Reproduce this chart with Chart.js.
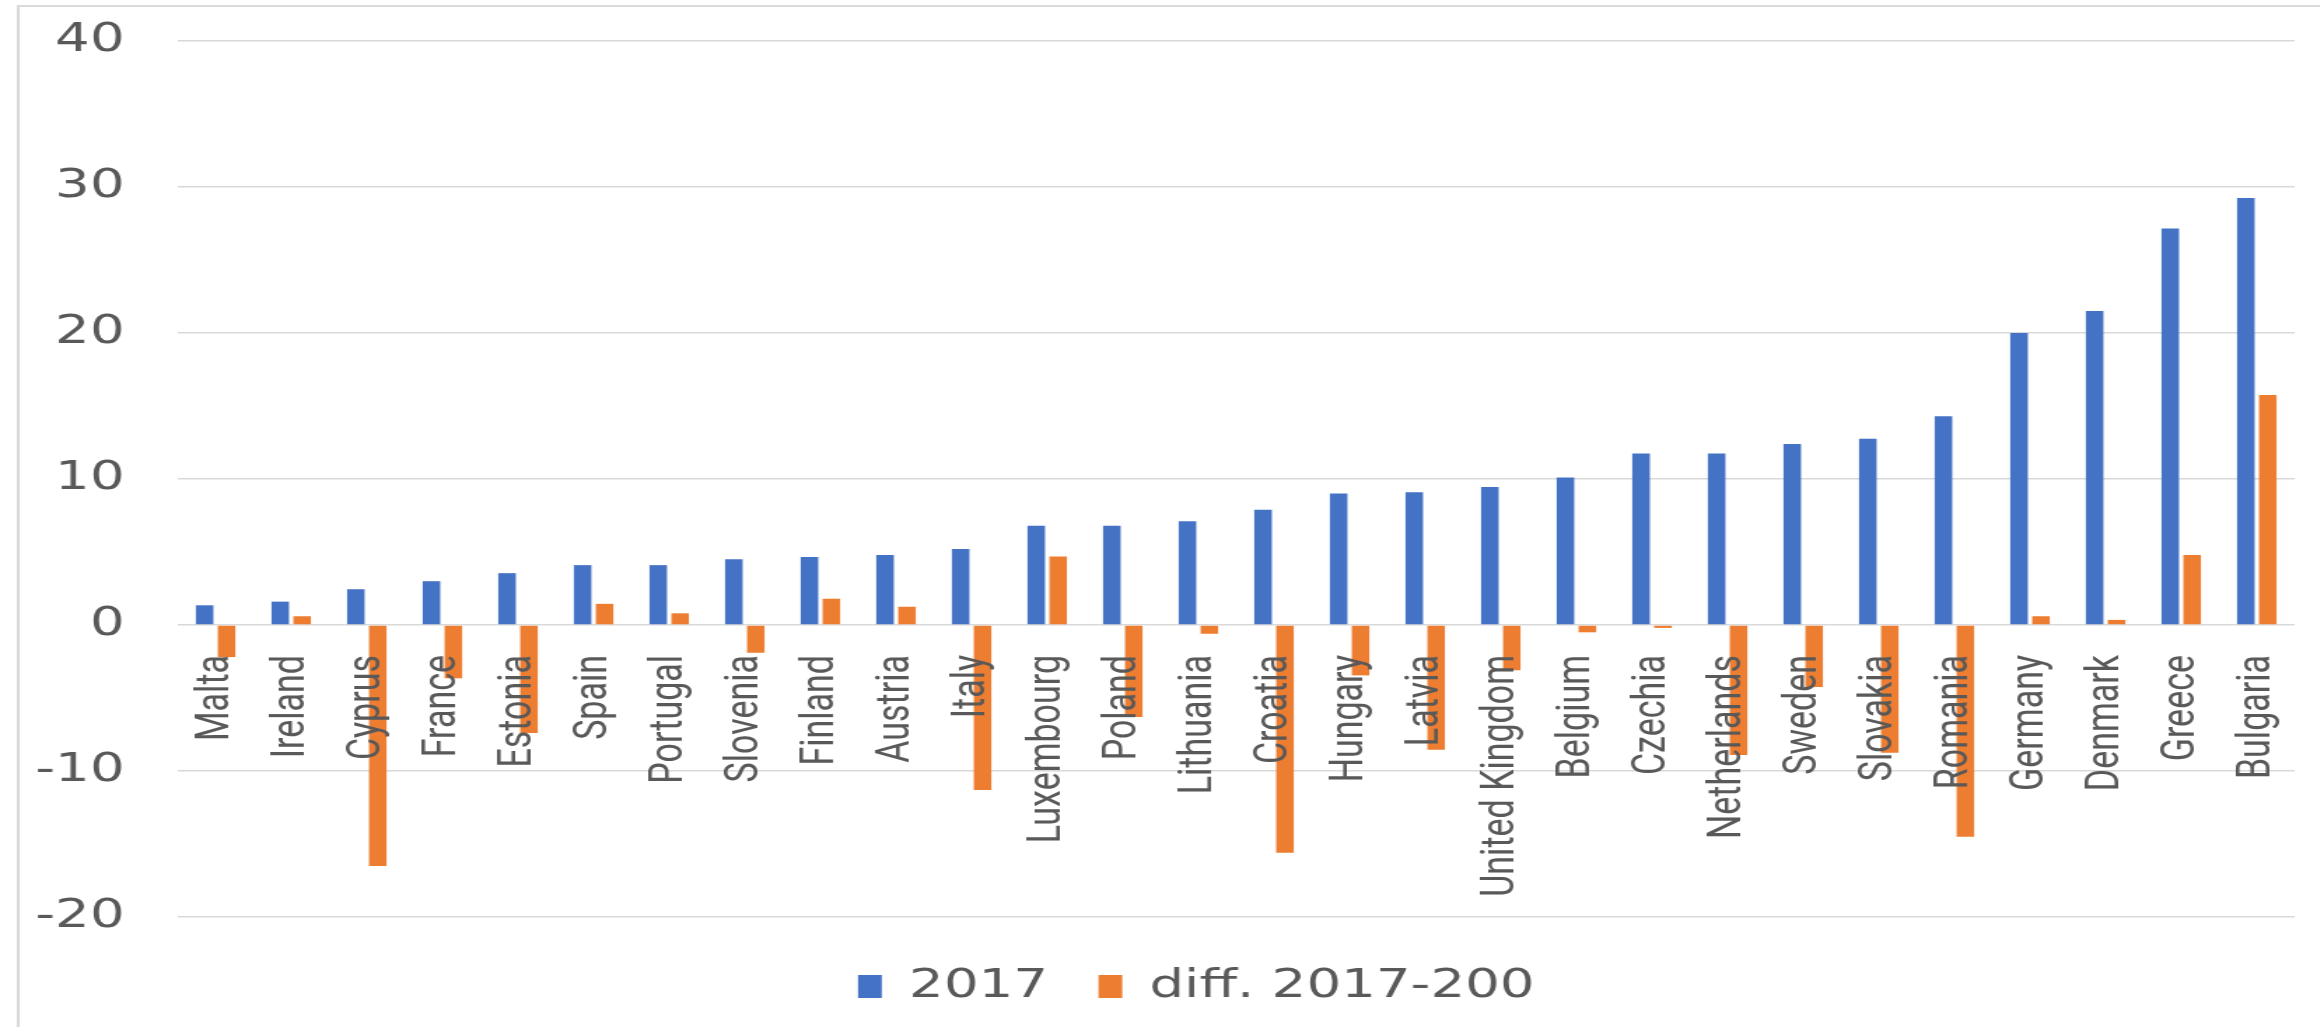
<!DOCTYPE html>
<html>
<head>
<meta charset="utf-8">
<title>2017 and diff. 2017-200</title>
<script src="https://cdn.jsdelivr.net/npm/chart.js@4.4.1/dist/chart.umd.min.js"></script>
<style>
    html, body { margin: 0; padding: 0; background: #ffffff; overflow: hidden; }
    /* the reference picture is stretched sideways, so the chart is drawn narrow and widened */
    #wrap { width: 1657px; height: 1027px; transform: scaleX(1.4); transform-origin: 0 0; }
</style>
</head>
<body>
<div id="wrap"><canvas id="chart"></canvas></div>
<script>
const countries = ["Malta", "Ireland", "Cyprus", "France", "Estonia", "Spain", "Portugal", "Slovenia",
    "Finland", "Austria", "Italy", "Luxembourg", "Poland", "Lithuania", "Croatia", "Hungary", "Latvia",
    "United Kingdom", "Belgium", "Czechia", "Netherlands", "Sweden", "Slovakia", "Romania", "Germany",
    "Denmark", "Greece", "Bulgaria"];

const values2017 = [1.35, 1.6, 2.45, 3.0, 3.55, 4.1, 4.1, 4.5, 4.65, 4.8, 5.2, 6.8, 6.8, 7.1, 7.9,
    9.0, 9.1, 9.45, 10.1, 11.75, 11.75, 12.4, 12.75, 14.3, 20.0, 21.5, 27.15, 29.25];

const valuesDiff = [-2.2, 0.6, -16.5, -3.65, -7.4, 1.45, 0.8, -1.9, 1.8, 1.25, -11.3, 4.7, -6.3, -0.6,
    -15.6, -3.45, -8.55, -3.1, -0.5, -0.2, -8.9, -4.25, -8.75, -14.5, 0.6, 0.35, 4.8, 15.75];

const yTicks = [-20, -10, 0, 10, 20, 30, 40];

const seriesNames = ["2017", "diff. 2017-200"];

const TEXT = "#595959";
const GRID = "#d9d9d9";

/* light grey frame of the chart box, cut off at the right and bottom.
 * It also nudges the legend a bit to the right, where the reference has it. */
const framePlugin = {
    id: "frame",
    afterLayout(chart){
        chart.legend.left += 35;
        chart.legend.right += 35;
    },
    beforeDraw(chart){
        const ctx = chart.ctx;
        ctx.save();
        ctx.strokeStyle = GRID;
        ctx.lineWidth = 2;
        ctx.strokeRect(13, 6, chart.width + 20, chart.height + 20);
        ctx.restore();
    }
};

const ctx = document.getElementById("chart").getContext("2d");

new Chart(ctx, {
    type: "bar",
    data: {
        labels: countries,
        datasets: [{
            label: seriesNames[0],
            data: values2017,
            backgroundColor: "#4472c4",
            borderWidth: 0
        },

        {
            label: seriesNames[1],
            data: valuesDiff,
            backgroundColor: "#ed7d31",
            borderWidth: 0
        }]
    },

    options: {
        responsive: true,
        maintainAspectRatio: false,
        animation: false,
        categoryPercentage: 0.58,
        barPercentage: 0.8,
        layout: {
            padding: {top: 41, right: 18, bottom: 11, left: 0}
        },

        plugins: {
            tooltip: {enabled: false},
            legend: {
                position: "bottom",
                title: {
                    display: true, // empty title, only used to push the legend row down
                    text: "",
                    font: {size: 10},
                    padding: {top: 2, bottom: 0}
                },
                labels: {
                    color: TEXT,
                    font: {family: "DejaVu Sans", size: 39},
                    boxWidth: 17,
                    boxHeight: 23,
                    padding: 36
                }
            }
        },

        scales: {
            y: {
                min: -20,
                max: 40,
                afterBuildTicks: (scale) => {
                    scale.ticks = yTicks.map(v => ({value: v}));
                },
                afterFit: (scale) => {
                    scale.width = 127;
                    scale.paddingTop = 20;
                    scale.paddingBottom = 20;
                },
                grid: {color: GRID, lineWidth: 1.5, drawTicks: false},
                border: {display: false},
                ticks: {
                    color: TEXT,
                    font: {family: "DejaVu Sans", size: 39},
                    padding: 38
                }
            },

            x: {
                position: {y: 0}, // category labels hang just under the zero line
                afterFit: (scale) => {
                    scale.paddingLeft = 0;
                    scale.paddingRight = 0;
                },
                grid: {display: false},
                border: {display: false},
                ticks: {
                    color: TEXT,
                    font: {family: "Roboto", size: 34},
                    minRotation: 90,
                    maxRotation: 90,
                    autoSkip: false,
                    padding: 22,
                    z: 1 // labels are drawn over the bars
                }
            }
        }
    },

    plugins: [framePlugin]
});
</script>
</body>
</html>
